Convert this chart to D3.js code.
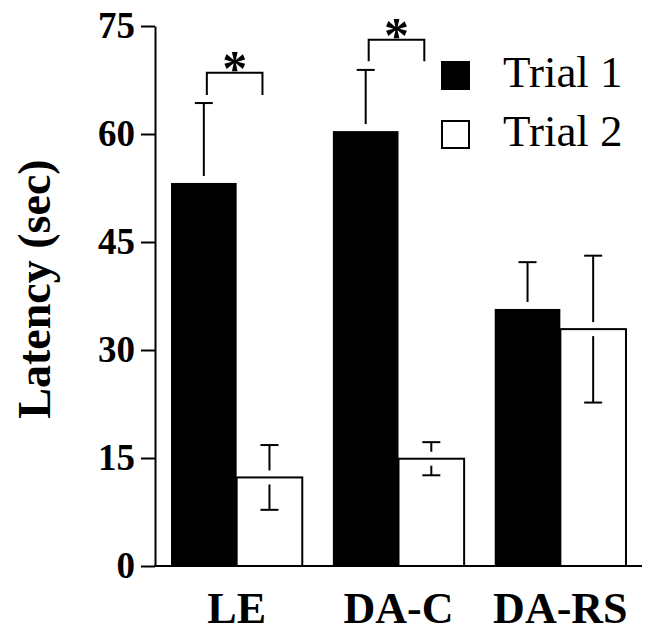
<!DOCTYPE html>
<html>
<head>
<meta charset="utf-8">
<script src="https://cdn.jsdelivr.net/npm/d3@7"></script>
<style>
  body { margin: 0; background: #fff; }
  svg text { font-family: "Liberation Serif", "Times New Roman", serif; }
</style>
</head>
<body>
<div id="chart"></div>
<script>
// Chart values
const groups = ['LE', 'DA-C', 'DA-RS'];
const trials = ['Trial 1', 'Trial 2'];
const trial1Means = [53.2, 60.4, 35.7];
const trial1Sem = [11.1, 8.5, 6.5];
const trial2Means = [12.3, 14.9, 32.9];
const trial2Sem = [4.5, 2.3, 10.2];
const yTicks = [0, 15, 30, 45, 60, 75];
// significance brackets: group, bracket top value, leg length (in data units)
const sigGroups = ['LE', 'DA-C'];
const sigTops = [68.5, 73.1];
const sigLegs = [3.1, 3.0];

const config = {
  width: 649,
  height: 635,
  margin: { top: 26, right: 7, bottom: 69, left: 155 },
  errGap: 7,
  capWidth: 18
};

const data = [];
groups.forEach((g, i) => {
  data.push({ group: g, trial: trials[0], mean: trial1Means[i], sem: trial1Sem[i] });
  data.push({ group: g, trial: trials[1], mean: trial2Means[i], sem: trial2Sem[i] });
});

const svg = d3.select('#chart').append('svg')
  .attr('width', config.width)
  .attr('height', config.height);

const x0 = config.margin.left;
const x1 = config.width - config.margin.right;
const yBottom = config.height - config.margin.bottom;

const xScale = d3.scaleBand()
  .domain(groups)
  .range([x0, x1])
  .paddingInner(0.189)
  .paddingOuter(0.099);

const xTrial = d3.scaleBand()
  .domain(trials)
  .range([0, xScale.bandwidth()]);

const yScale = d3.scaleLinear()
  .domain([0, 75])
  .range([yBottom, config.margin.top]);

const fill = d3.scaleOrdinal().domain(trials).range(['#000', '#fff']);

// Bars
svg.append('g').selectAll('.bar')
  .data(data)
  .join('rect')
  .attr('class', 'bar')
  .attr('x', d => xScale(d.group) + xTrial(d.trial))
  .attr('y', d => yScale(d.mean))
  .attr('width', xTrial.bandwidth())
  .attr('height', d => yScale(0) - yScale(d.mean))
  .attr('fill', d => fill(d.trial))
  .attr('stroke', '#000')
  .attr('stroke-width', d => d.trial === trials[1] ? 2 : 0);

// Error bars (broken near bar top, as in the figure)
const err = svg.append('g')
  .attr('stroke', '#000')
  .attr('stroke-width', 2)
  .attr('fill', 'none');

data.forEach(d => {
  const cx = xScale(d.group) + xTrial(d.trial) + xTrial.bandwidth() / 2;
  const ym = yScale(d.mean);
  const yUp = yScale(d.mean + d.sem);
  const yDn = yScale(d.mean - d.sem);
  err.append('line').attr('x1', cx).attr('x2', cx).attr('y1', ym - config.errGap).attr('y2', yUp);
  err.append('line').attr('x1', cx - config.capWidth / 2).attr('x2', cx + config.capWidth / 2).attr('y1', yUp).attr('y2', yUp);
  err.append('line').attr('x1', cx).attr('x2', cx).attr('y1', ym + config.errGap).attr('y2', yDn);
  err.append('line').attr('x1', cx - config.capWidth / 2).attr('x2', cx + config.capWidth / 2).attr('y1', yDn).attr('y2', yDn);
});

// Y axis
const yAxis = d3.axisLeft(yScale)
  .tickValues(yTicks)
  .tickSize(14)
  .tickSizeOuter(0)
  .tickPadding(6);

const yAxisG = svg.append('g')
  .attr('transform', `translate(${x0},0)`)
  .call(yAxis);
yAxisG.selectAll('line, path').attr('stroke', '#000').attr('stroke-width', 2);
yAxisG.selectAll('text')
  .attr('font-size', 37)
  .attr('font-weight', 'bold')
  .attr('fill', '#000')
  .style('font-family', '"Liberation Serif", serif');

// X axis line
svg.append('line')
  .attr('x1', x0 - 1).attr('x2', x1)
  .attr('y1', yBottom).attr('y2', yBottom)
  .attr('stroke', '#000').attr('stroke-width', 2);

// X labels
svg.append('g').selectAll('.xlab')
  .data(groups)
  .join('text')
  .attr('class', 'xlab')
  .attr('x', d => xScale(d) + xScale.bandwidth() / 2)
  .attr('y', 623)
  .attr('text-anchor', 'middle')
  .attr('font-size', 44)
  .attr('font-weight', 'bold')
  .text(d => d);

// Y title
svg.append('text')
  .attr('transform', 'translate(50,289) rotate(-90)')
  .attr('text-anchor', 'middle')
  .attr('font-size', 46)
  .attr('font-weight', 'bold')
  .text('Latency (sec)');

// Significance brackets
sigGroups.forEach((g, i) => {
  const c1 = xScale(g) + xTrial(trials[0]) + xTrial.bandwidth() / 2 + 3;
  const c2 = xScale(g) + xTrial(trials[1]) + xTrial.bandwidth() / 2 - 7;
  const yt = yScale(sigTops[i]);
  const yl = yScale(sigTops[i] - sigLegs[i]);
  svg.append('path')
    .attr('d', `M${c1},${yl}V${yt}H${c2}V${yl}`)
    .attr('fill', 'none')
    .attr('stroke', '#000')
    .attr('stroke-width', 2);
  svg.append('text')
    .attr('x', (c1 + c2) / 2)
    .attr('y', yt + 12)
    .attr('text-anchor', 'middle')
    .attr('font-size', 50)
    .attr('font-weight', 'bold')
    .text('*');
});

// Legend
const legend = svg.append('g').selectAll('.legend')
  .data(trials)
  .join('g')
  .attr('class', 'legend')
  .attr('transform', (d, i) => `translate(441,${61 + i * 59})`);
legend.append('rect')
  .attr('x', 1).attr('y', 1)
  .attr('width', 27).attr('height', 27)
  .attr('fill', d => fill(d))
  .attr('stroke', '#000')
  .attr('stroke-width', 2);
legend.append('text')
  .attr('x', 62)
  .attr('y', 26)
  .attr('font-size', 45)
  .text(d => d);
</script>
</body>
</html>
